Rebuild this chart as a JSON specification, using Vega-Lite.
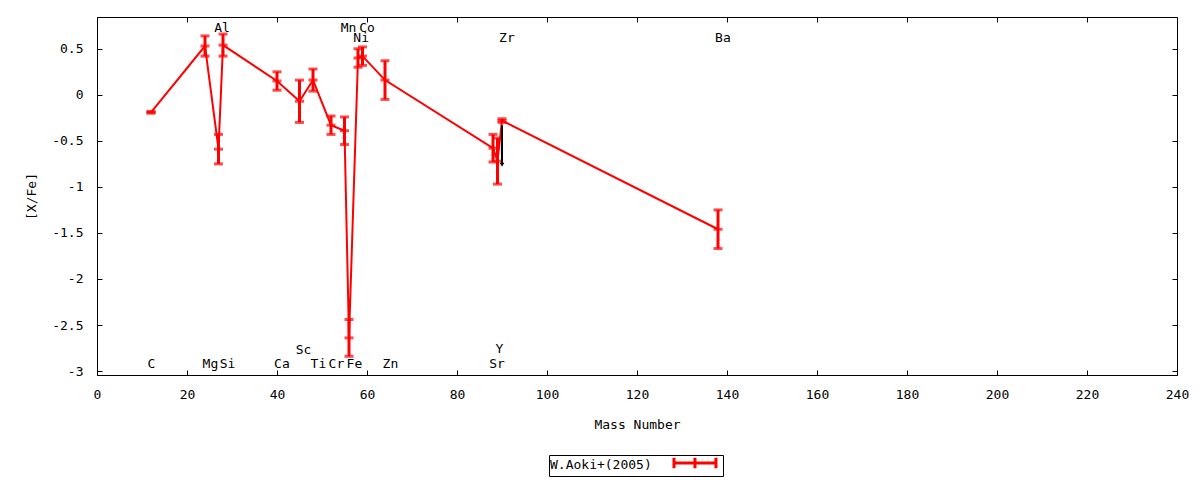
{
  "$schema": "https://vega.github.io/schema/vega-lite/v6.json",
  "width": 1080,
  "height": 358,
  "autosize": {"type": "none"},
  "padding": {"left": 97, "top": 17, "right": 23, "bottom": 105},
  "background": "white",
  "config": {
    "font": "DejaVu Sans Mono",
    "view": {"stroke": "black", "strokeWidth": 1},
    "axis": {
      "grid": false,
      "domain": false,
      "labelFlush": false,
      "labelOverlap": false,
      "tickColor": "black",
      "tickSize": -5,
      "tickWidth": 1,
      "labelFont": "DejaVu Sans Mono",
      "labelFontSize": 13,
      "labelColor": "black",
      "titleFont": "DejaVu Sans Mono",
      "titleFontSize": 13,
      "titleFontWeight": "normal",
      "titleColor": "black"
    },
    "legend": {
      "titleFont": "DejaVu Sans Mono",
      "titleFontSize": 13,
      "titleFontWeight": "normal",
      "titleColor": "black"
    }
  },
  "datasets": {
    "abund": [
      {"elem": "C", "mass": 12, "val": -0.19, "err": 0.01},
      {"elem": "Mg", "mass": 24, "val": 0.53, "err": 0.11},
      {"elem": "Al", "mass": 27, "val": -0.59, "err": 0.16},
      {"elem": "Si", "mass": 28, "val": 0.54, "err": 0.12},
      {"elem": "Ca", "mass": 40, "val": 0.15, "err": 0.1},
      {"elem": "Sc", "mass": 45, "val": -0.07, "err": 0.23},
      {"elem": "Ti", "mass": 48, "val": 0.16, "err": 0.12},
      {"elem": "Cr", "mass": 52, "val": -0.33, "err": 0.1},
      {"elem": "Mn", "mass": 55, "val": -0.39, "err": 0.15},
      {"elem": "Fe", "mass": 56, "val": -2.64, "err": 0.2},
      {"elem": "Ni", "mass": 58, "val": 0.4, "err": 0.1},
      {"elem": "Co", "mass": 59, "val": 0.42, "err": 0.1},
      {"elem": "Zn", "mass": 64, "val": 0.16, "err": 0.21},
      {"elem": "Sr", "mass": 88, "val": -0.58, "err": 0.15},
      {"elem": "Y", "mass": 89, "val": -0.72, "err": 0.25},
      {"elem": "Zr", "mass": 90, "val": -0.28, "err": 0.02},
      {"elem": "Ba", "mass": 138, "val": -1.46, "err": 0.21}
    ],
    "labels": [
      {"name": "Al", "x": 27.8, "y": 0.73},
      {"name": "Mn", "x": 55.9, "y": 0.73},
      {"name": "Co", "x": 60.0, "y": 0.73},
      {"name": "Ni", "x": 58.7, "y": 0.62},
      {"name": "Zr", "x": 91.1, "y": 0.62},
      {"name": "Ba", "x": 139.1, "y": 0.62},
      {"name": "C", "x": 12.1, "y": -2.92},
      {"name": "Mg", "x": 25.2, "y": -2.92},
      {"name": "Si", "x": 29.0, "y": -2.92},
      {"name": "Ca", "x": 41.1, "y": -2.92},
      {"name": "Sc", "x": 45.9, "y": -2.77},
      {"name": "Ti", "x": 49.2, "y": -2.92},
      {"name": "Cr", "x": 53.2, "y": -2.92},
      {"name": "Fe", "x": 57.2, "y": -2.92},
      {"name": "Zn", "x": 65.2, "y": -2.92},
      {"name": "Y", "x": 89.4, "y": -2.76},
      {"name": "Sr", "x": 88.9, "y": -2.92}
    ],
    "limit": [
      {"mass": 90, "from": -0.33, "to": -0.76}
    ]
  },
  "layer": [
    {
      "data": {"name": "abund"},
      "mark": {"type": "line", "strokeWidth": 2},
      "encoding": {
        "x": {
          "field": "mass", "type": "quantitative",
          "scale": {"domain": [0, 240], "nice": false},
          "axis": {
            "orient": "bottom",
            "values": [0, 20, 40, 60, 80, 100, 120, 140, 160, 180, 200, 220, 240],
            "title": "Mass Number",
            "labelPadding": 18,
            "titlePadding": 17
          }
        },
        "y": {
          "field": "val", "type": "quantitative",
          "scale": {"domain": [-3.043, 0.845], "nice": false, "zero": false},
          "axis": {
            "orient": "left",
            "values": [0.5, 0, -0.5, -1, -1.5, -2, -2.5, -3],
            "labelExpr": "'' + datum.value",
            "title": "[X/Fe]",
            "labelPadding": 19,
            "titlePadding": 13
          }
        },
        "color": {
          "datum": "W.Aoki+(2005)",
          "scale": {"range": ["#ff0000"]},
          "legend": {
            "orient": "none",
            "legendX": 452,
            "legendY": 438,
            "title": "W.Aoki+(2005)",
            "titleOrient": "left",
            "titleBaseline": "middle",
            "titlePadding": 15,
            "labelExpr": "''",
            "labelFontSize": 1,
            "labelOffset": 0,
            "strokeColor": "black",
            "padding": 1,
            "symbolType": "M0,0H8M0,-1V1M4,-1V1M8,-1V1",
            "symbolSize": 110,
            "symbolStrokeWidth": 3,
            "symbolStrokeColor": "#ff0000"
          }
        }
      }
    },
    {
      "data": {"name": "abund"},
      "mark": {
        "type": "errorbar",
        "color": "#ff0000",
        "thickness": 3,
        "ticks": {"size": 9, "thickness": 3, "color": "#ff0000"},
        "rule": {"strokeWidth": 3, "color": "#ff0000"}
      },
      "encoding": {
        "x": {"field": "mass", "type": "quantitative", "axis": null},
        "y": {"field": "val", "type": "quantitative", "axis": null},
        "yError": {"field": "err"}
      }
    },
    {
      "data": {"name": "abund"},
      "mark": {"type": "tick", "orient": "horizontal", "size": 9, "thickness": 3, "color": "#ff0000"},
      "encoding": {
        "x": {"field": "mass", "type": "quantitative", "axis": null},
        "y": {"field": "val", "type": "quantitative", "axis": null}
      }
    },
    {
      "data": {"name": "limit"},
      "mark": {"type": "rule", "color": "black", "strokeWidth": 2},
      "encoding": {
        "x": {"field": "mass", "type": "quantitative", "axis": null},
        "y": {"field": "from", "type": "quantitative", "axis": null},
        "y2": {"field": "to"}
      }
    },
    {
      "data": {"name": "limit"},
      "mark": {"type": "point", "shape": "triangle-down", "filled": true, "color": "black", "opacity": 1, "size": 22},
      "encoding": {
        "x": {"field": "mass", "type": "quantitative", "axis": null},
        "y": {"field": "to", "type": "quantitative", "axis": null}
      }
    },
    {
      "data": {"name": "labels"},
      "mark": {"type": "text", "font": "DejaVu Sans Mono", "fontSize": 13, "color": "black", "align": "center", "baseline": "middle"},
      "encoding": {
        "x": {
          "field": "x", "type": "quantitative",
          "axis": {"orient": "top", "values": [0, 20, 40, 60, 80, 100, 120, 140, 160, 180, 200, 220, 240], "labels": false, "title": null}
        },
        "y": {
          "field": "y", "type": "quantitative",
          "axis": {"orient": "right", "values": [0.5, 0, -0.5, -1, -1.5, -2, -2.5, -3], "labels": false, "title": null}
        },
        "text": {"field": "name"}
      }
    }
  ],
  "resolve": {"axis": {"x": "independent", "y": "independent"}}
}
